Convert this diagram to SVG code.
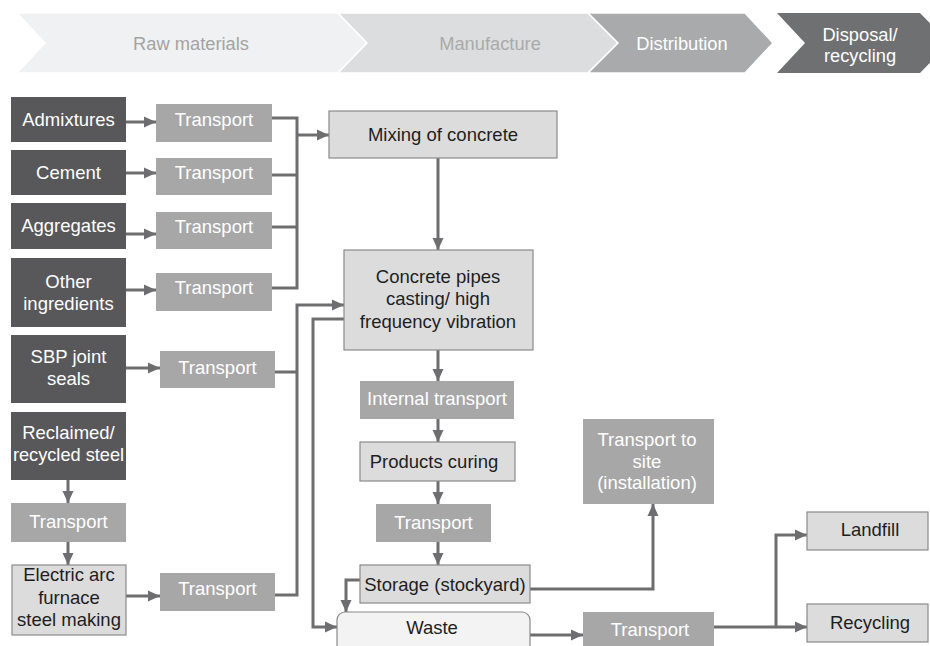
<svg xmlns="http://www.w3.org/2000/svg" width="930" height="646" viewBox="0 0 930 646">
<style>
text{font-family:"Liberation Sans",Arial,sans-serif;font-size:18.5px;text-anchor:middle}
.dk{fill:#58585a}
.tr{fill:#a7a7a8}
.lt{fill:#dcdcdd;stroke:#8a8a8a;stroke-width:1.2}
.w{fill:#ffffff}
.b{fill:#1e1e1e}
.c{fill:none;stroke:#6e6e70;stroke-width:3;stroke-linejoin:miter}
.hd{font-size:18.3px}
</style>
<defs>
<marker id="ah" markerUnits="userSpaceOnUse" markerWidth="13" markerHeight="13" viewBox="0 0 13 13" refX="12" refY="6.5" orient="auto">
<path d="M0,1 L12,6.5 L0,12 Z" fill="#6e6e70"/>
</marker>
</defs>
<rect width="930" height="646" fill="#ffffff"/>
<g id="header">
<polygon points="17,13 338,13 367,43 338,73 17,73 45,43" fill="#f0f1f2" stroke="#ffffff" stroke-width="1.5"/>
<polygon points="338,13 588,13 618,43 588,73 338,73 367,43" fill="#dcdddf" stroke="#ffffff" stroke-width="1.5"/>
<polygon points="588,13 745,13 773,43 745,73 588,73 618,43" fill="#a9aaac" stroke="#ffffff" stroke-width="1.5"/>
<polygon points="777,13 920,13 949,43 920,73 777,73 805,43" fill="#6f7072"/>
<text class="hd" x="191" y="49.5" fill="#a3a3a4">Raw materials</text>
<text class="hd" x="490" y="49.5" fill="#a9aaab">Manufacture</text>
<text class="hd" x="682" y="49.5" fill="#ffffff">Distribution</text>
<text class="hd" x="860" y="40.5" fill="#ffffff">Disposal/</text>
<text class="hd" x="860" y="62" fill="#ffffff">recycling</text>
</g>
<g id="connectors">
<line class="c" x1="126" y1="122" x2="156" y2="122" marker-end="url(#ah)"/>
<line class="c" x1="126" y1="173" x2="156" y2="173" marker-end="url(#ah)"/>
<line class="c" x1="126" y1="234" x2="156" y2="234" marker-end="url(#ah)"/>
<line class="c" x1="126" y1="290" x2="156" y2="290" marker-end="url(#ah)"/>
<line class="c" x1="126" y1="368" x2="160" y2="368" marker-end="url(#ah)"/>
<line class="c" x1="126" y1="596" x2="160" y2="596" marker-end="url(#ah)"/>
<line class="c" x1="68" y1="480" x2="68" y2="503" marker-end="url(#ah)"/>
<line class="c" x1="68" y1="542" x2="68" y2="565" marker-end="url(#ah)"/>
<polyline class="c" points="272,118 297,118 297,288 272,288"/>
<line class="c" x1="272" y1="175" x2="297" y2="175"/>
<line class="c" x1="272" y1="227" x2="297" y2="227"/>
<line class="c" x1="297" y1="135" x2="329" y2="135" marker-end="url(#ah)"/>
<polyline class="c" points="275,372 297,372"/>
<polyline class="c" points="275,595 297,595 297,305 344,305" marker-end="url(#ah)"/>
<polyline class="c" points="344,319 313,319 313,627 337,627" marker-end="url(#ah)"/>
<line class="c" x1="438" y1="158" x2="438" y2="250" marker-end="url(#ah)"/>
<line class="c" x1="438" y1="350" x2="438" y2="381" marker-end="url(#ah)"/>
<line class="c" x1="438" y1="419" x2="438" y2="442" marker-end="url(#ah)"/>
<line class="c" x1="438" y1="481" x2="438" y2="504" marker-end="url(#ah)"/>
<line class="c" x1="438" y1="542" x2="438" y2="565" marker-end="url(#ah)"/>
<polyline class="c" points="360,580 346,580 346,612" marker-end="url(#ah)"/>
<polyline class="c" points="530,589 653,589 653,504" marker-end="url(#ah)"/>
<line class="c" x1="530" y1="635" x2="583" y2="635" marker-end="url(#ah)"/>
<line class="c" x1="714" y1="627" x2="807" y2="627" marker-end="url(#ah)"/>
<polyline class="c" points="776,627 776,535 807,535" marker-end="url(#ah)"/>
</g>
<g id="admixtures"><rect class="dk" x="11" y="97" width="115" height="45"/><text class="w" x="68.5" y="126">Admixtures</text></g>
<g id="cement"><rect class="dk" x="11" y="150" width="115" height="45"/><text class="w" x="68.5" y="179">Cement</text></g>
<g id="aggregates"><rect class="dk" x="11" y="203" width="115" height="46"/><text class="w" x="68.5" y="232">Aggregates</text></g>
<g id="other"><rect class="dk" x="11" y="258" width="115" height="69"/><text class="w" x="68.5" y="288">Other</text><text class="w" x="68.5" y="310">ingredients</text></g>
<g id="sbp"><rect class="dk" x="11" y="335" width="115" height="68"/><text class="w" x="68.5" y="363">SBP joint</text><text class="w" x="68.5" y="385">seals</text></g>
<g id="reclaimed"><rect class="dk" x="11" y="412" width="115" height="68"/><text class="w" x="68.5" y="439">Reclaimed/</text><text class="w" x="68.5" y="461" style="font-size:18.2px">recycled steel</text></g>
<g id="transport-steel"><rect class="tr" x="11" y="503" width="115" height="39"/><text class="w" x="68.5" y="528">Transport</text></g>
<g id="eaf"><rect class="lt" x="12" y="565" width="114" height="70"/><text class="b" x="69" y="581">Electric arc</text><text class="b" x="69" y="604">furnace</text><text class="b" x="69" y="626">steel making</text></g>
<g id="transport-1"><rect class="tr" x="156" y="104" width="116" height="38"/><text class="w" x="214" y="126">Transport</text></g>
<g id="transport-2"><rect class="tr" x="156" y="158" width="116" height="37"/><text class="w" x="214" y="179">Transport</text></g>
<g id="transport-3"><rect class="tr" x="156" y="212" width="116" height="37"/><text class="w" x="214" y="233">Transport</text></g>
<g id="transport-4"><rect class="tr" x="156" y="273" width="116" height="38"/><text class="w" x="214" y="294">Transport</text></g>
<g id="transport-sbp"><rect class="tr" x="160" y="351" width="115" height="37"/><text class="w" x="217.5" y="374">Transport</text></g>
<g id="transport-eaf"><rect class="tr" x="160" y="573" width="115" height="38"/><text class="w" x="217.5" y="595">Transport</text></g>
<g id="mixing"><rect class="lt" x="329" y="111" width="228" height="47"/><text class="b" x="443" y="141">Mixing of concrete</text></g>
<g id="casting"><rect class="lt" x="344" y="250" width="189" height="100"/><text class="b" x="438" y="283">Concrete pipes</text><text class="b" x="438" y="305">casting/ high</text><text class="b" x="438" y="328">frequency vibration</text></g>
<g id="internal-transport"><rect class="tr" x="360" y="381" width="154" height="38"/><text class="w" x="437" y="405">Internal transport</text></g>
<g id="curing"><rect class="lt" x="360" y="442" width="155" height="39"/><text class="b" x="434" y="468">Products curing</text></g>
<g id="transport-m"><rect class="tr" x="376" y="504" width="115" height="38"/><text class="w" x="433.5" y="529">Transport</text></g>
<g id="storage"><rect class="lt" x="360" y="565" width="170" height="38"/><text class="b" x="445" y="591">Storage (stockyard)</text></g>
<g id="waste"><rect x="337" y="612" width="193" height="50" rx="8" fill="#f3f3f3" stroke="#8a8a8a" stroke-width="1.2"/><text class="b" x="432" y="634">Waste</text></g>
<g id="transport-site"><rect class="tr" x="583" y="419" width="131" height="85"/><text class="w" x="647" y="446">Transport to</text><text class="w" x="647" y="468">site</text><text class="w" x="647" y="489">(installation)</text></g>
<g id="transport-waste"><rect class="tr" x="583" y="612" width="131" height="40"/><text class="w" x="650" y="636">Transport</text></g>
<g id="landfill"><rect class="lt" x="807" y="512" width="121" height="38"/><text class="b" x="870" y="536">Landfill</text></g>
<g id="recycling"><rect class="lt" x="807" y="604" width="121" height="38"/><text class="b" x="870" y="629">Recycling</text></g>
</svg>
